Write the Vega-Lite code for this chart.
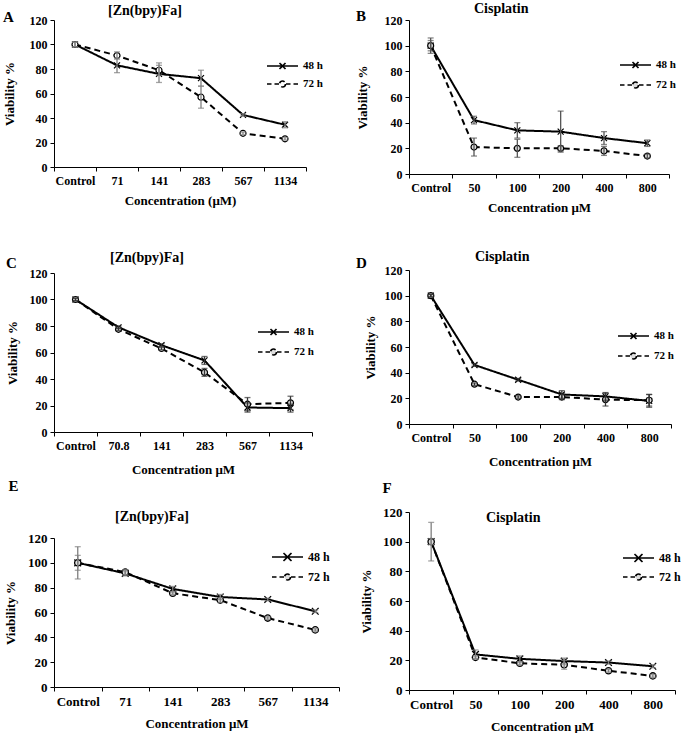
{
  "$schema": "https://vega.github.io/schema/vega-lite/v6.json",
  "background": "white",
  "padding": {"left": 3, "top": 2, "right": 0, "bottom": 0},
  "config": {
    "font": "Liberation Serif",
    "view": {"stroke": null},
    "axis": {"grid": false, "domainColor": "#000", "domainWidth": 1, "tickColor": "#000", "tickSize": 4, "labelFont": "Liberation Serif", "labelFontWeight": "bold", "labelFontSize": 12, "labelColor": "#000", "titleFont": "Liberation Serif", "titleFontWeight": "bold", "titleFontSize": 13, "titleColor": "#000"},
    "axisX": {"labelAngle": 0, "tickBand": "extent", "labelPadding": 4, "titlePadding": 8},
    "axisY": {"tickCount": 7, "labelPadding": 3, "titlePadding": 10},
    "legend": {"title": null, "orient": "none", "symbolSize": 100, "symbolStrokeWidth": 1.6, "symbolStrokeColor": "#000", "symbolFillColor": "#fff", "labelFont": "Liberation Serif", "labelFontWeight": "bold", "labelFontSize": 11, "labelColor": "#000", "labelOffset": 4, "rowPadding": 7},
    "title": {"font": "Liberation Serif", "fontWeight": "bold", "color": "#000", "fontSize": 14}
  },
  "datasets": {
    "A": [
      {"c": "Control", "s": "48 h", "v": 100, "lo": 98, "hi": 102},
      {"c": "71", "s": "48 h", "v": 83, "lo": 77, "hi": 89},
      {"c": "141", "s": "48 h", "v": 76, "lo": 69, "hi": 83},
      {"c": "283", "s": "48 h", "v": 72.5, "lo": 66, "hi": 79},
      {"c": "567", "s": "48 h", "v": 42.5, "lo": 41.5, "hi": 43.5},
      {"c": "1134", "s": "48 h", "v": 34.5, "lo": 32, "hi": 37},
      {"c": "Control", "s": "72 h", "v": 100, "lo": 98, "hi": 102},
      {"c": "71", "s": "72 h", "v": 91, "lo": 88, "hi": 94},
      {"c": "141", "s": "72 h", "v": 79, "lo": 75, "hi": 85},
      {"c": "283", "s": "72 h", "v": 57, "lo": 48, "hi": 66},
      {"c": "567", "s": "72 h", "v": 27.5, "lo": 26.5, "hi": 28.5},
      {"c": "1134", "s": "72 h", "v": 23, "lo": 22, "hi": 24}
    ],
    "B": [
      {"c": "Control", "s": "48 h", "v": 100, "lo": 94, "hi": 106},
      {"c": "50", "s": "48 h", "v": 42, "lo": 39, "hi": 45},
      {"c": "100", "s": "48 h", "v": 34, "lo": 28, "hi": 40},
      {"c": "200", "s": "48 h", "v": 33, "lo": 17, "hi": 49},
      {"c": "400", "s": "48 h", "v": 28, "lo": 23, "hi": 33},
      {"c": "800", "s": "48 h", "v": 24, "lo": 21.5, "hi": 26.5},
      {"c": "Control", "s": "72 h", "v": 100, "lo": 96, "hi": 104},
      {"c": "50", "s": "72 h", "v": 21, "lo": 14, "hi": 28},
      {"c": "100", "s": "72 h", "v": 20, "lo": 13, "hi": 27},
      {"c": "200", "s": "72 h", "v": 20, "lo": 18, "hi": 22},
      {"c": "400", "s": "72 h", "v": 18, "lo": 14.5, "hi": 21.5},
      {"c": "800", "s": "72 h", "v": 14, "lo": 12.5, "hi": 15.5}
    ],
    "C": [
      {"c": "Control", "s": "48 h", "v": 100, "lo": 99, "hi": 101},
      {"c": "70.8", "s": "48 h", "v": 79, "lo": 78, "hi": 80},
      {"c": "141", "s": "48 h", "v": 65.5, "lo": 64.5, "hi": 66.5},
      {"c": "283", "s": "48 h", "v": 54, "lo": 51, "hi": 57},
      {"c": "567", "s": "48 h", "v": 18.5, "lo": 15, "hi": 22},
      {"c": "1134", "s": "48 h", "v": 18, "lo": 15, "hi": 21},
      {"c": "Control", "s": "72 h", "v": 100, "lo": 99, "hi": 101},
      {"c": "70.8", "s": "72 h", "v": 77.5, "lo": 76.5, "hi": 78.5},
      {"c": "141", "s": "72 h", "v": 63, "lo": 62, "hi": 64},
      {"c": "283", "s": "72 h", "v": 45, "lo": 42, "hi": 48},
      {"c": "567", "s": "72 h", "v": 21, "lo": 16, "hi": 26},
      {"c": "1134", "s": "72 h", "v": 22, "lo": 17, "hi": 27}
    ],
    "D": [
      {"c": "Control", "s": "48 h", "v": 100, "lo": 99, "hi": 101},
      {"c": "50", "s": "48 h", "v": 46, "lo": 45, "hi": 47},
      {"c": "100", "s": "48 h", "v": 34.5, "lo": 33.5, "hi": 35.5},
      {"c": "200", "s": "48 h", "v": 23, "lo": 20, "hi": 26},
      {"c": "400", "s": "48 h", "v": 21.5, "lo": 18.5, "hi": 24.5},
      {"c": "800", "s": "48 h", "v": 18, "lo": 13, "hi": 23},
      {"c": "Control", "s": "72 h", "v": 100, "lo": 99, "hi": 101},
      {"c": "50", "s": "72 h", "v": 31, "lo": 30, "hi": 32},
      {"c": "100", "s": "72 h", "v": 21, "lo": 20, "hi": 22},
      {"c": "200", "s": "72 h", "v": 21, "lo": 19, "hi": 23},
      {"c": "400", "s": "72 h", "v": 19, "lo": 14, "hi": 24},
      {"c": "800", "s": "72 h", "v": 18.5, "lo": 14, "hi": 23}
    ],
    "E": [
      {"c": "Control", "s": "48 h", "v": 100, "lo": 87, "hi": 113},
      {"c": "71", "s": "48 h", "v": 91.5, "lo": 89.5, "hi": 93.5},
      {"c": "141", "s": "48 h", "v": 79, "lo": 77, "hi": 81},
      {"c": "283", "s": "48 h", "v": 72.5, "lo": 70.5, "hi": 74.5},
      {"c": "567", "s": "48 h", "v": 70.5, "lo": 69.5, "hi": 71.5},
      {"c": "1134", "s": "48 h", "v": 61, "lo": 60, "hi": 62},
      {"c": "Control", "s": "72 h", "v": 100, "lo": 94, "hi": 106},
      {"c": "71", "s": "72 h", "v": 92.5, "lo": 90.5, "hi": 94.5},
      {"c": "141", "s": "72 h", "v": 75.5, "lo": 74.5, "hi": 76.5},
      {"c": "283", "s": "72 h", "v": 70, "lo": 68, "hi": 72},
      {"c": "567", "s": "72 h", "v": 55.5, "lo": 54.5, "hi": 56.5},
      {"c": "1134", "s": "72 h", "v": 46, "lo": 45, "hi": 47}
    ],
    "F": [
      {"c": "Control", "s": "48 h", "v": 100, "lo": 87, "hi": 113},
      {"c": "50", "s": "48 h", "v": 24, "lo": 21, "hi": 27},
      {"c": "100", "s": "48 h", "v": 21, "lo": 19, "hi": 23},
      {"c": "200", "s": "48 h", "v": 19.5, "lo": 17.5, "hi": 21.5},
      {"c": "400", "s": "48 h", "v": 18.5, "lo": 17.5, "hi": 19.5},
      {"c": "800", "s": "48 h", "v": 16, "lo": 15, "hi": 17},
      {"c": "Control", "s": "72 h", "v": 100, "lo": 98, "hi": 102},
      {"c": "50", "s": "72 h", "v": 22, "lo": 21, "hi": 23},
      {"c": "100", "s": "72 h", "v": 18, "lo": 17, "hi": 19},
      {"c": "200", "s": "72 h", "v": 17, "lo": 14, "hi": 20},
      {"c": "400", "s": "72 h", "v": 13, "lo": 12, "hi": 14},
      {"c": "800", "s": "72 h", "v": 9.5, "lo": 8.5, "hi": 10.5}
    ]
  },
  "resolve": {"scale": {"strokeDash": "independent"}, "legend": {"strokeDash": "independent"}},
  "spacing": 16,
  "hconcat": [
    {"spacing": 3,
     "resolve": {"scale": {"strokeDash": "independent"}, "legend": {"strokeDash": "independent"}},
     "vconcat": [
      {"spacing": 44,
       "resolve": {"scale": {"strokeDash": "independent"}, "legend": {"strokeDash": "independent"}},
       "vconcat": [
        {"title": {"text": "A", "anchor": "start", "frame": "bounds", "fontSize": 15, "offset": -21, "dx": 0},
         "resolve": {"scale": {"strokeDash": "independent"}, "legend": {"strokeDash": "independent"}},
         "vconcat": [{
          "title": {"text": "[Zn(bpy)Fa]", "anchor": "start", "frame": "group", "dx": 54, "offset": -4},
          "width": 252, "height": 147,
          "data": {"name": "A"},
          "encoding": {"x": {"field": "c", "type": "nominal", "sort": null, "scale": {"type": "band", "paddingInner": 0, "paddingOuter": 0}, "axis": {"title": "Concentration (μM)"}}},
          "layer": [
            {"mark": {"type": "line", "color": "#000", "strokeWidth": 2}, "encoding": {"y": {"field": "v", "type": "quantitative", "scale": {"domain": [0, 120], "nice": false}, "axis": {"title": "Viability %", "titlePadding": 13}}, "strokeDash": {"field": "s", "type": "nominal", "scale": {"domain": ["48 h", "72 h"], "range": [[1, 0], [6, 4]]}, "legend": {"legendX": 233, "legendY": 40, "rowPadding": 4, "encode": {"symbols": {"update": {"shape": {"signal": "datum.value === '48 h' ? 'M-5.2,0H1M-2.7,-0.6L-1.5,0.6M-2.7,0.6L-1.5,-0.6' : 'M-5.2,0H-4.3M-3.7,0H-2.8M-1.4,0H-0.5M0.1,0H1M-1.5,0A0.6,0.6 0 1,1 -2.7,0A0.6,0.6 0 1,1 -1.5,0Z'"}, "strokeDash": {"value": [1, 0]}, "stroke": {"value": "#000"}, "fill": {"value": "#fff"}, "strokeWidth": {"value": 1.6}, "opacity": {"value": 1}}}}}}}},
            {"transform": [{"filter": "datum.s === '48 h'"}], "mark": {"type": "point", "shape": "M-1,-1L1,1M-1,1L1,-1", "filled": false, "stroke": "#000", "strokeWidth": 1.2, "size": 36, "opacity": 1}, "encoding": {"y": {"field": "v", "type": "quantitative"}}},
            {"transform": [{"filter": "datum.s === '72 h'"}], "mark": {"type": "point", "shape": "circle", "filled": true, "fill": "#fff", "stroke": "#000", "strokeWidth": 1.2, "size": 36, "opacity": 1}, "encoding": {"y": {"field": "v", "type": "quantitative"}}},
            {"mark": {"type": "rule", "color": "#808080", "strokeWidth": 1.3}, "encoding": {"y": {"field": "lo", "type": "quantitative"}, "y2": {"field": "hi"}}},
            {"mark": {"type": "tick", "color": "#808080", "size": 6, "thickness": 1.3}, "encoding": {"y": {"field": "lo", "type": "quantitative"}}},
            {"mark": {"type": "tick", "color": "#808080", "size": 6, "thickness": 1.3}, "encoding": {"y": {"field": "hi", "type": "quantitative"}}}
          ]
        }]},
        {"title": {"text": "C", "anchor": "start", "frame": "bounds", "fontSize": 15, "offset": -20, "dx": 0},
         "resolve": {"scale": {"strokeDash": "independent"}, "legend": {"strokeDash": "independent"}},
         "vconcat": [{
          "title": {"text": "[Zn(bpy)Fa]", "anchor": "start", "frame": "group", "dx": 56, "offset": 2},
          "width": 258, "height": 159,
          "data": {"name": "C"},
          "encoding": {"x": {"field": "c", "type": "nominal", "sort": null, "scale": {"type": "band", "paddingInner": 0, "paddingOuter": 0}, "axis": {"title": "Concentration μM", "titlePadding": 12}}},
          "layer": [
            {"mark": {"type": "line", "color": "#000", "strokeWidth": 2}, "encoding": {"y": {"field": "v", "type": "quantitative", "scale": {"domain": [0, 120], "nice": false}, "axis": {"title": "Viability %", "titlePadding": 10}}, "strokeDash": {"field": "s", "type": "nominal", "scale": {"domain": ["48 h", "72 h"], "range": [[1, 0], [6, 4]]}, "legend": {"legendX": 224, "legendY": 53, "rowPadding": 6, "encode": {"symbols": {"update": {"shape": {"signal": "datum.value === '48 h' ? 'M-5.2,0H1M-2.7,-0.6L-1.5,0.6M-2.7,0.6L-1.5,-0.6' : 'M-5.2,0H-4.3M-3.7,0H-2.8M-1.4,0H-0.5M0.1,0H1M-1.5,0A0.6,0.6 0 1,1 -2.7,0A0.6,0.6 0 1,1 -1.5,0Z'"}, "strokeDash": {"value": [1, 0]}, "stroke": {"value": "#000"}, "fill": {"value": "#ddd"}, "strokeWidth": {"value": 1.6}, "opacity": {"value": 1}}}}}}}},
            {"transform": [{"filter": "datum.s === '48 h'"}], "mark": {"type": "point", "shape": "M-1,-1L1,1M-1,1L1,-1", "filled": false, "stroke": "#000", "strokeWidth": 1.2, "size": 36, "opacity": 1}, "encoding": {"y": {"field": "v", "type": "quantitative"}}},
            {"transform": [{"filter": "datum.s === '72 h'"}], "mark": {"type": "point", "shape": "circle", "filled": true, "fill": "#ddd", "stroke": "#000", "strokeWidth": 1.2, "size": 36, "opacity": 1}, "encoding": {"y": {"field": "v", "type": "quantitative"}}},
            {"mark": {"type": "rule", "color": "#333", "strokeWidth": 1.3}, "encoding": {"y": {"field": "lo", "type": "quantitative"}, "y2": {"field": "hi"}}},
            {"mark": {"type": "tick", "color": "#333", "size": 6, "thickness": 1.3}, "encoding": {"y": {"field": "lo", "type": "quantitative"}}},
            {"mark": {"type": "tick", "color": "#333", "size": 6, "thickness": 1.3}, "encoding": {"y": {"field": "hi", "type": "quantitative"}}}
          ]
        }]}
      ]},
      {"title": {"text": "E", "anchor": "start", "frame": "bounds", "fontSize": 15, "offset": 16, "dx": 4},
       "resolve": {"scale": {"strokeDash": "independent"}, "legend": {"strokeDash": "independent"}},
       "vconcat": [{
        "title": {"text": "[Zn(bpy)Fa]", "anchor": "start", "frame": "group", "dx": 61, "offset": 8},
        "width": 285, "height": 149,
        "data": {"name": "E"},
        "encoding": {"x": {"field": "c", "type": "nominal", "sort": null, "scale": {"type": "band", "paddingInner": 0, "paddingOuter": 0}, "axis": {"title": "Concentration μM", "labelFontSize": 13, "titlePadding": 9}}},
        "layer": [
          {"mark": {"type": "line", "color": "#000", "strokeWidth": 2}, "encoding": {"y": {"field": "v", "type": "quantitative", "scale": {"domain": [0, 120], "nice": false}, "axis": {"title": "Viability %", "labelFontSize": 13, "titlePadding": 10}}, "strokeDash": {"field": "s", "type": "nominal", "scale": {"domain": ["48 h", "72 h"], "range": [[1, 0], [6, 4]]}, "legend": {"legendX": 238, "legendY": 13, "rowPadding": 5, "labelFontSize": 12, "encode": {"symbols": {"update": {"shape": {"signal": "datum.value === '48 h' ? 'M-5.2,0H1M-2.9,-0.8L-1.3,0.8M-2.9,0.8L-1.3,-0.8' : 'M-5.2,0H-4.3M-3.7,0H-2.8M-1.4,0H-0.5M0.1,0H1M-1.5,0A0.6,0.6 0 1,1 -2.7,0A0.6,0.6 0 1,1 -1.5,0Z'"}, "strokeDash": {"value": [1, 0]}, "stroke": {"value": "#000"}, "fill": {"value": "#ddd"}, "strokeWidth": {"value": 1.6}, "opacity": {"value": 1}}}}}}}},
          {"transform": [{"filter": "datum.s === '48 h'"}], "mark": {"type": "point", "shape": "M-1,-1L1,1M-1,1L1,-1", "filled": false, "stroke": "#000", "strokeWidth": 1.3, "size": 45, "opacity": 1}, "encoding": {"y": {"field": "v", "type": "quantitative"}}},
          {"transform": [{"filter": "datum.s === '72 h'"}], "mark": {"type": "point", "shape": "circle", "filled": true, "fill": "#ddd", "stroke": "#000", "strokeWidth": 1.3, "size": 40, "opacity": 1}, "encoding": {"y": {"field": "v", "type": "quantitative"}}},
          {"mark": {"type": "rule", "color": "#808080", "strokeWidth": 1.3}, "encoding": {"y": {"field": "lo", "type": "quantitative"}, "y2": {"field": "hi"}}},
          {"mark": {"type": "tick", "color": "#808080", "size": 6, "thickness": 1.3}, "encoding": {"y": {"field": "lo", "type": "quantitative"}}},
          {"mark": {"type": "tick", "color": "#808080", "size": 6, "thickness": 1.3}, "encoding": {"y": {"field": "hi", "type": "quantitative"}}}
        ]
      }]}
    ]},
    {"spacing": 13,
     "resolve": {"scale": {"strokeDash": "independent"}, "legend": {"strokeDash": "independent"}},
     "vconcat": [
      {"spacing": 36,
       "resolve": {"scale": {"strokeDash": "independent"}, "legend": {"strokeDash": "independent"}},
       "vconcat": [
        {"title": {"text": "B", "anchor": "start", "frame": "bounds", "fontSize": 15, "offset": -22, "dx": 0},
         "resolve": {"scale": {"strokeDash": "independent"}, "legend": {"strokeDash": "independent"}},
         "vconcat": [{
          "title": {"text": "Cisplatin", "anchor": "start", "frame": "group", "dx": 65, "offset": -2},
          "width": 260, "height": 154,
          "data": {"name": "B"},
          "encoding": {"x": {"field": "c", "type": "nominal", "sort": null, "scale": {"type": "band", "paddingInner": 0, "paddingOuter": 0}, "axis": {"title": "Concentration μM"}}},
          "layer": [
            {"mark": {"type": "line", "color": "#000", "strokeWidth": 2}, "encoding": {"y": {"field": "v", "type": "quantitative", "scale": {"domain": [0, 120], "nice": false}, "axis": {"title": "Viability %", "titlePadding": 15}}, "strokeDash": {"field": "s", "type": "nominal", "scale": {"domain": ["48 h", "72 h"], "range": [[1, 0], [6, 4]]}, "legend": {"legendX": 231, "legendY": 39, "rowPadding": 6, "encode": {"symbols": {"update": {"shape": {"signal": "datum.value === '48 h' ? 'M-5.2,0H1M-2.7,-0.6L-1.5,0.6M-2.7,0.6L-1.5,-0.6' : 'M-5.2,0H-4.3M-3.7,0H-2.8M-1.4,0H-0.5M0.1,0H1M-1.5,0A0.6,0.6 0 1,1 -2.7,0A0.6,0.6 0 1,1 -1.5,0Z'"}, "strokeDash": {"value": [1, 0]}, "stroke": {"value": "#000"}, "fill": {"value": "#ddd"}, "strokeWidth": {"value": 1.6}, "opacity": {"value": 1}}}}}}}},
            {"transform": [{"filter": "datum.s === '48 h'"}], "mark": {"type": "point", "shape": "M-1,-1L1,1M-1,1L1,-1", "filled": false, "stroke": "#000", "strokeWidth": 1.2, "size": 36, "opacity": 1}, "encoding": {"y": {"field": "v", "type": "quantitative"}}},
            {"transform": [{"filter": "datum.s === '72 h'"}], "mark": {"type": "point", "shape": "circle", "filled": true, "fill": "#ddd", "stroke": "#000", "strokeWidth": 1.2, "size": 36, "opacity": 1}, "encoding": {"y": {"field": "v", "type": "quantitative"}}},
            {"mark": {"type": "rule", "color": "#555", "strokeWidth": 1.3}, "encoding": {"y": {"field": "lo", "type": "quantitative"}, "y2": {"field": "hi"}}},
            {"mark": {"type": "tick", "color": "#555", "size": 6, "thickness": 1.3}, "encoding": {"y": {"field": "lo", "type": "quantitative"}}},
            {"mark": {"type": "tick", "color": "#555", "size": 6, "thickness": 1.3}, "encoding": {"y": {"field": "hi", "type": "quantitative"}}}
          ]
        }]},
        {"title": {"text": "D", "anchor": "start", "frame": "bounds", "fontSize": 15, "offset": -21, "dx": -8},
         "resolve": {"scale": {"strokeDash": "independent"}, "legend": {"strokeDash": "independent"}},
         "vconcat": [{
          "title": {"text": "Cisplatin", "anchor": "start", "frame": "group", "dx": 66, "offset": 0},
          "width": 262, "height": 154,
          "data": {"name": "D"},
          "encoding": {"x": {"field": "c", "type": "nominal", "sort": null, "scale": {"type": "band", "paddingInner": 0, "paddingOuter": 0}, "axis": {"title": "Concentration μM", "titlePadding": 12}}},
          "layer": [
            {"mark": {"type": "line", "color": "#000", "strokeWidth": 2}, "encoding": {"y": {"field": "v", "type": "quantitative", "scale": {"domain": [0, 120], "nice": false}, "axis": {"title": "Viability %", "titlePadding": 7}}, "strokeDash": {"field": "s", "type": "nominal", "scale": {"domain": ["48 h", "72 h"], "range": [[1, 0], [6, 4]]}, "legend": {"legendX": 229, "legendY": 60, "rowPadding": 6, "encode": {"symbols": {"update": {"shape": {"signal": "datum.value === '48 h' ? 'M-5.2,0H1M-2.7,-0.6L-1.5,0.6M-2.7,0.6L-1.5,-0.6' : 'M-5.2,0H-4.3M-3.7,0H-2.8M-1.4,0H-0.5M0.1,0H1M-1.5,0A0.6,0.6 0 1,1 -2.7,0A0.6,0.6 0 1,1 -1.5,0Z'"}, "strokeDash": {"value": [1, 0]}, "stroke": {"value": "#000"}, "fill": {"value": "#ddd"}, "strokeWidth": {"value": 1.6}, "opacity": {"value": 1}}}}}}}},
            {"transform": [{"filter": "datum.s === '48 h'"}], "mark": {"type": "point", "shape": "M-1,-1L1,1M-1,1L1,-1", "filled": false, "stroke": "#000", "strokeWidth": 1.2, "size": 36, "opacity": 1}, "encoding": {"y": {"field": "v", "type": "quantitative"}}},
            {"transform": [{"filter": "datum.s === '72 h'"}], "mark": {"type": "point", "shape": "circle", "filled": true, "fill": "#ddd", "stroke": "#000", "strokeWidth": 1.2, "size": 36, "opacity": 1}, "encoding": {"y": {"field": "v", "type": "quantitative"}}},
            {"mark": {"type": "rule", "color": "#333", "strokeWidth": 1.3}, "encoding": {"y": {"field": "lo", "type": "quantitative"}, "y2": {"field": "hi"}}},
            {"mark": {"type": "tick", "color": "#333", "size": 6, "thickness": 1.3}, "encoding": {"y": {"field": "lo", "type": "quantitative"}}},
            {"mark": {"type": "tick", "color": "#333", "size": 6, "thickness": 1.3}, "encoding": {"y": {"field": "hi", "type": "quantitative"}}}
          ]
        }]}
      ]},
      {"title": {"text": "F", "anchor": "start", "frame": "bounds", "fontSize": 15, "offset": 10, "dx": 22},
       "resolve": {"scale": {"strokeDash": "independent"}, "legend": {"strokeDash": "independent"}},
       "vconcat": [{
        "title": {"text": "Cisplatin", "anchor": "start", "frame": "group", "dx": 77, "offset": -19},
        "width": 266, "height": 178,
        "data": {"name": "F"},
        "encoding": {"x": {"field": "c", "type": "nominal", "sort": null, "scale": {"type": "band", "paddingInner": 0, "paddingOuter": 0}, "axis": {"title": "Concentration μM", "labelFontSize": 13, "titlePadding": 9}}},
        "layer": [
          {"mark": {"type": "line", "color": "#000", "strokeWidth": 2}, "encoding": {"y": {"field": "v", "type": "quantitative", "scale": {"domain": [0, 120], "nice": false}, "axis": {"title": "Viability %", "labelFontSize": 13, "titlePadding": 9}}, "strokeDash": {"field": "s", "type": "nominal", "scale": {"domain": ["48 h", "72 h"], "range": [[1, 0], [6, 4]]}, "legend": {"legendX": 234, "legendY": 40, "rowPadding": 4, "labelFontSize": 12, "encode": {"symbols": {"update": {"shape": {"signal": "datum.value === '48 h' ? 'M-5.2,0H1M-2.9,-0.8L-1.3,0.8M-2.9,0.8L-1.3,-0.8' : 'M-5.2,0H-4.3M-3.7,0H-2.8M-1.4,0H-0.5M0.1,0H1M-1.5,0A0.6,0.6 0 1,1 -2.7,0A0.6,0.6 0 1,1 -1.5,0Z'"}, "strokeDash": {"value": [1, 0]}, "stroke": {"value": "#000"}, "fill": {"value": "#ddd"}, "strokeWidth": {"value": 1.6}, "opacity": {"value": 1}}}}}}}},
          {"transform": [{"filter": "datum.s === '48 h'"}], "mark": {"type": "point", "shape": "M-1,-1L1,1M-1,1L1,-1", "filled": false, "stroke": "#000", "strokeWidth": 1.3, "size": 45, "opacity": 1}, "encoding": {"y": {"field": "v", "type": "quantitative"}}},
          {"transform": [{"filter": "datum.s === '72 h'"}], "mark": {"type": "point", "shape": "circle", "filled": true, "fill": "#ddd", "stroke": "#000", "strokeWidth": 1.3, "size": 40, "opacity": 1}, "encoding": {"y": {"field": "v", "type": "quantitative"}}},
          {"mark": {"type": "rule", "color": "#808080", "strokeWidth": 1.3}, "encoding": {"y": {"field": "lo", "type": "quantitative"}, "y2": {"field": "hi"}}},
          {"mark": {"type": "tick", "color": "#808080", "size": 6, "thickness": 1.3}, "encoding": {"y": {"field": "lo", "type": "quantitative"}}},
          {"mark": {"type": "tick", "color": "#808080", "size": 6, "thickness": 1.3}, "encoding": {"y": {"field": "hi", "type": "quantitative"}}}
        ]
      }]}
    ]}
  ]
}
